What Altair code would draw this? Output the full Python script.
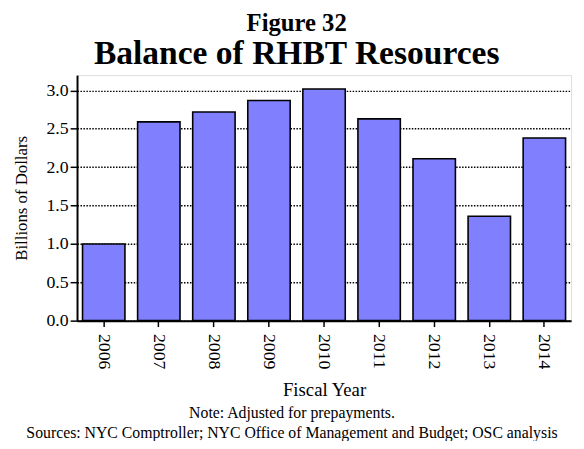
import altair as alt
import pandas as pd

years = ["2006", "2007", "2008", "2009", "2010", "2011", "2012", "2013", "2014"]
values = [1.00, 2.59, 2.72, 2.87, 3.02, 2.63, 2.11, 1.36, 2.38]
y_ticks = [0.0, 0.5, 1.0, 1.5, 2.0, 2.5, 3.0]
notes = ["Note: Adjusted for prepayments.",
         "Sources: NYC Comptroller; NYC Office of Management and Budget; OSC analysis"]

df = pd.DataFrame({"year": years, "value": values})
FONT = "Liberation Serif"

bars = alt.Chart(df).mark_bar(
    fill="#8080FF", stroke="black", strokeWidth=1.6
).encode(
    x=alt.X("year:N", sort=years,
            scale=alt.Scale(paddingInner=0.23, paddingOuter=0.1),
            axis=alt.Axis(title="Fiscal Year", labelAngle=90, labelAlign="left",
                          labelBaseline="middle", labelFontSize=18, labelPadding=7,
                          titleFontSize=19, titleFontWeight="normal", titlePadding=12,
                          tickSize=6, tickColor="black", tickWidth=1.5,
                          domainColor="black", domainWidth=2, grid=False,
                          labelFont=FONT, titleFont=FONT, labelColor="black",
                          titleColor="black")),
    y=alt.Y("value:Q",
            scale=alt.Scale(domain=[0, 3.2], nice=False),
            axis=alt.Axis(title="Billions of Dollars", values=y_ticks, format=".1f",
                          labelFontSize=18, labelPadding=2, titleFontSize=17,
                          titleFontWeight="normal", titlePadding=16,
                          tickSize=7, tickColor="black", tickWidth=1.5,
                          domainColor="black", domainWidth=2,
                          grid=True, gridColor="black", gridDash=[1.5, 1.5],
                          gridWidth=1.5, gridOpacity=1,
                          labelFont=FONT, titleFont=FONT, labelColor="black",
                          titleColor="black"))
)

note_df = pd.DataFrame({"line": notes, "row": [0, 1]})
note_text = alt.Chart(note_df).transform_filter("datum.row == 0").mark_text(
    font=FONT, fontSize=16, color="black", align="center", baseline="middle"
).encode(text="line:N", x=alt.value(218), y=alt.value(343))
src_text = alt.Chart(note_df).transform_filter("datum.row == 1").mark_text(
    font=FONT, fontSize=16, color="black", align="center", baseline="middle"
).encode(text="line:N", x=alt.value(218), y=alt.value(363))

chart = alt.layer(bars, note_text, src_text).properties(
    width=501, height=249,
    title=alt.TitleParams(text="Figure 32", subtitle="Balance of RHBT Resources",
                          font=FONT, fontSize=25, fontWeight="bold", color="black",
                          subtitleFont=FONT, subtitleFontSize=34,
                          subtitleFontWeight="bold", subtitleColor="black",
                          subtitlePadding=2, anchor="middle", frame="bounds",
                          offset=4, dx=5),
    autosize=alt.AutoSizeParams(type="none"),
    padding={"left": 70, "top": 65, "right": 5, "bottom": 119},
).configure_view(stroke="#333333", strokeWidth=1.5).configure(background="white")

chart.save("out.html", embed_options={"renderer": "svg", "actions": False})
